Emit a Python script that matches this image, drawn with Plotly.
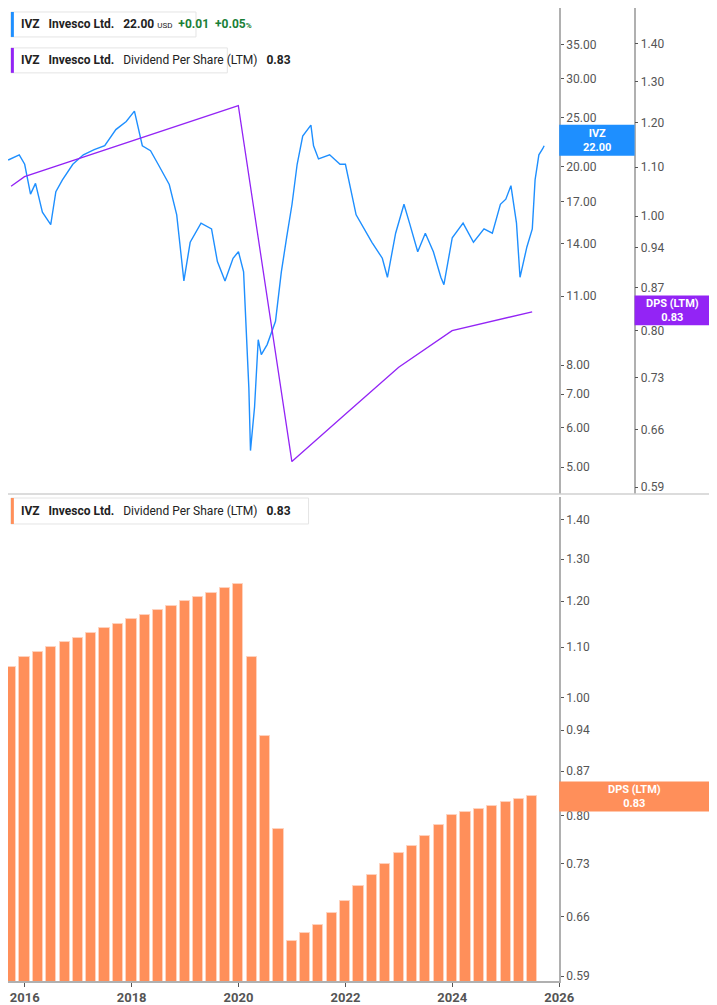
import math
import pandas as pd
import plotly.graph_objects as go

W, H = 717, 1005

# ---- data ----
price_dates = ['2015-09-10', '2015-11-25', '2016-01-01', '2016-02-10', '2016-03-15', '2016-05-01',
               '2016-06-27', '2016-08-01', '2016-09-15', '2016-11-25', '2017-02-05', '2017-04-20',
               '2017-07-01', '2017-09-15', '2017-11-25', '2018-01-20', '2018-03-15', '2018-05-10',
               '2018-07-01', '2018-09-15', '2018-11-05', '2018-12-24', '2019-02-05', '2019-04-20',
               '2019-07-01', '2019-08-10', '2019-10-01', '2019-11-25', '2020-01-01', '2020-02-05',
               '2020-03-12', '2020-03-23', '2020-04-20', '2020-05-15', '2020-06-05', '2020-07-15',
               '2020-09-10', '2020-10-20', '2020-11-25', '2021-01-01', '2021-02-05', '2021-03-15',
               '2021-05-10', '2021-05-28', '2021-07-01', '2021-09-15', '2021-11-25', '2022-01-01',
               '2022-03-15', '2022-05-10', '2022-07-01', '2022-09-10', '2022-10-15', '2022-12-10',
               '2023-02-05', '2023-03-15', '2023-05-10', '2023-07-01', '2023-08-25', '2023-10-15',
               '2023-11-05', '2024-01-01', '2024-03-15', '2024-05-25', '2024-08-05', '2024-10-01',
               '2024-11-25', '2025-01-01', '2025-02-05', '2025-03-15', '2025-04-08', '2025-05-25',
               '2025-07-01', '2025-07-20', '2025-08-15', '2025-09-10', '2025-09-20']
price = [20.6, 21.1, 20.2, 17.6, 18.5, 16.2, 15.3, 17.8, 18.8, 20.2, 21.1, 21.6,
         22.0, 23.7, 24.6, 25.8, 22.0, 21.5, 20.2, 18.4, 16.0, 11.8, 14.1, 15.4,
         15.0, 12.9, 11.8, 13.1, 13.5, 12.3, 7.2, 5.4, 6.6, 9.0, 8.4, 8.8,
         9.8, 12.3, 14.4, 16.8, 20.2, 23.0, 24.2, 22.0, 20.7, 21.1, 20.2, 20.2,
         16.0, 15.0, 14.1, 13.1, 12.0, 14.7, 16.8, 15.4, 13.5, 14.7, 13.5, 12.0,
         11.6, 14.4, 15.4, 14.1, 15.0, 14.7, 16.8, 17.2, 18.3, 15.4, 12.0, 13.8,
         15.0, 18.8, 21.1, 21.7, 22.0]

dps_quarters = pd.date_range('2015-09-30', periods=40, freq='QE')
dps = [1.06, 1.08, 1.09, 1.10, 1.11, 1.12, 1.13, 1.14, 1.15, 1.16,
       1.17, 1.18, 1.19, 1.20, 1.21, 1.22, 1.23, 1.24, 1.08, 0.93,
       0.78, 0.63, 0.64, 0.65, 0.665, 0.68, 0.70, 0.715, 0.73, 0.745,
       0.755, 0.77, 0.785, 0.80, 0.805, 0.81, 0.815, 0.82, 0.825, 0.83]

dps_line_dates = ['2015-09-30', '2015-12-31', '2019-12-31', '2020-12-31',
                  '2021-12-31', '2022-12-31', '2023-12-31', '2025-06-30']
dps_line = [1.06, 1.08, 1.24, 0.62, 0.68, 0.745, 0.80, 0.83]

price_ticks = [5, 6, 7, 8, 11, 14, 17, 20, 25, 30, 35]
dps_ticks = [0.59, 0.66, 0.73, 0.80, 0.87, 0.94, 1.00, 1.10, 1.20, 1.30, 1.40]

BLUE = '#1e8fff'
PURPLE = '#9324f5'
ORANGE = '#ff8f5a'
GREY = '#555555'

def px_x(v):
    return v / W

def px_y(v):
    return 1 - v / H

fig = go.Figure()
fig.add_trace(go.Scatter(x=price_dates, y=price, mode='lines', line=dict(color=BLUE, width=1.4),
                         xaxis='x', yaxis='y'))
fig.add_trace(go.Scatter(x=dps_line_dates, y=dps_line, mode='lines', line=dict(color=PURPLE, width=1.3),
                         xaxis='x', yaxis='y2'))
fig.add_trace(go.Bar(x=dps_quarters, y=dps, width=70 * 24 * 3600 * 1000,
                     marker=dict(color=ORANGE, line=dict(color='#ffd2bd', width=1)),
                     xaxis='x2', yaxis='y3'))

xr = ['2015-09-09', '2026-01-01']
tickfont = dict(family='Roboto', size=12, color=GREY)
yax = dict(showgrid=False, showline=True, linecolor='#b0b0b0', linewidth=1.5, ticks='outside',
           ticklen=3, tickcolor=GREY, tickfont=tickfont, type='log', side='right')
fig.update_layout(
    width=W, height=H, showlegend=False, plot_bgcolor='white', paper_bgcolor='white',
    margin=dict(l=0, r=0, t=0, b=0), bargap=0,
    xaxis=dict(domain=[0, px_x(563)], range=xr, showticklabels=False, showgrid=False,
               anchor='y', ticks=''),
    yaxis=dict(yax, domain=[px_y(487), 1], anchor='x',
               range=[math.log10(4.42), math.log10(41.5)], tickvals=price_ticks,
               ticktext=['%.2f' % t for t in price_ticks]),
    yaxis2=dict(yax, overlaying='y', anchor='free', position=px_x(640),
                range=[math.log10(0.582), math.log10(1.50)], tickvals=dps_ticks,
                ticktext=['%.2f' % t for t in dps_ticks]),
    xaxis2=dict(domain=[0, px_x(563)], range=xr, anchor='y3', showgrid=False, showline=True,
                linecolor='#b0b0b0', linewidth=1.5, ticks='outside', ticklen=4, tickcolor=GREY,
                tickvals=['2016-01-01', '2018-01-01', '2020-01-01', '2022-01-01',
                          '2024-01-01', '2026-01-01'],
                ticktext=['2016', '2018', '2020', '2022', '2024', '2026'],
                tickfont=dict(family='Roboto', size=13, color=GREY, weight='bold')),
    yaxis3=dict(yax, domain=[px_y(975), px_y(490)], anchor='x2',
                range=[math.log10(0.5845), math.log10(1.462)], tickvals=dps_ticks,
                ticktext=['%.2f' % t for t in dps_ticks]),
)

shapes = [dict(type='line', xref='paper', yref='paper', x0=0, x1=1, y0=px_y(487), y1=px_y(487),
               line=dict(color='#d0d0d0', width=1.5))]
annotations = []

def legend_box(x0, x1, y0, y1, color, text):
    shapes.append(dict(type='rect', xref='paper', yref='paper', x0=px_x(x0), x1=px_x(x1),
                       y0=px_y(y1), y1=px_y(y0), line=dict(color='#e4e4e4', width=1),
                       fillcolor='white'))
    shapes.append(dict(type='rect', xref='paper', yref='paper', x0=px_x(x0), x1=px_x(x0 + 3),
                       y0=px_y(y1), y1=px_y(y0), line=dict(width=0), fillcolor=color))
    annotations.append(dict(xref='paper', yref='paper', x=px_x(x0 + 8), y=px_y((y0 + y1) / 2),
                            xanchor='left', yanchor='middle', showarrow=False, text=text,
                            font=dict(family='Roboto', size=12, color='#222222')))

legend_box(3, 192, 4, 29, BLUE,
           "<b>IVZ</b>   <b>Invesco Ltd.</b>   <b>22.00</b> <span style='font-size:8px'>USD</span>"
           "  <b><span style='color:#1a7f37'>+0.01</span></b>  <b><span style='color:#1a7f37'>+0.05"
           "<span style='font-size:8px'>%</span></span></b>")
legend_box(3, 224, 40, 65, PURPLE,
           "<b>IVZ</b>   <b>Invesco Ltd.</b>   Dividend Per Share (LTM)   <b>0.83</b>")
legend_box(3, 307, 491, 517, ORANGE,
           "<b>IVZ</b>   <b>Invesco Ltd.</b>   Dividend Per Share (LTM)   <b>0.83</b>")

def tag(x0, x1, y0, y1, color, text):
    shapes.append(dict(type='rect', xref='paper', yref='paper', x0=px_x(x0), x1=px_x(x1),
                       y0=px_y(y1), y1=px_y(y0), line=dict(width=0), fillcolor=color))
    annotations.append(dict(xref='paper', yref='paper', x=px_x((x0 + x1) / 2), y=px_y((y0 + y1) / 2),
                            xanchor='center', yanchor='middle', showarrow=False, text=text,
                            font=dict(family='Roboto', size=11, color='white', weight='bold')))

tag(563, 640, 117, 148, BLUE, 'IVZ<br>22.00')
tag(640, 717, 288, 318, PURPLE, 'DPS (LTM)<br>0.83')
tag(563, 717, 775, 805, ORANGE, 'DPS (LTM)<br>0.83')

fig.update_layout(shapes=shapes, annotations=annotations)
fig.write_html("out.html")
